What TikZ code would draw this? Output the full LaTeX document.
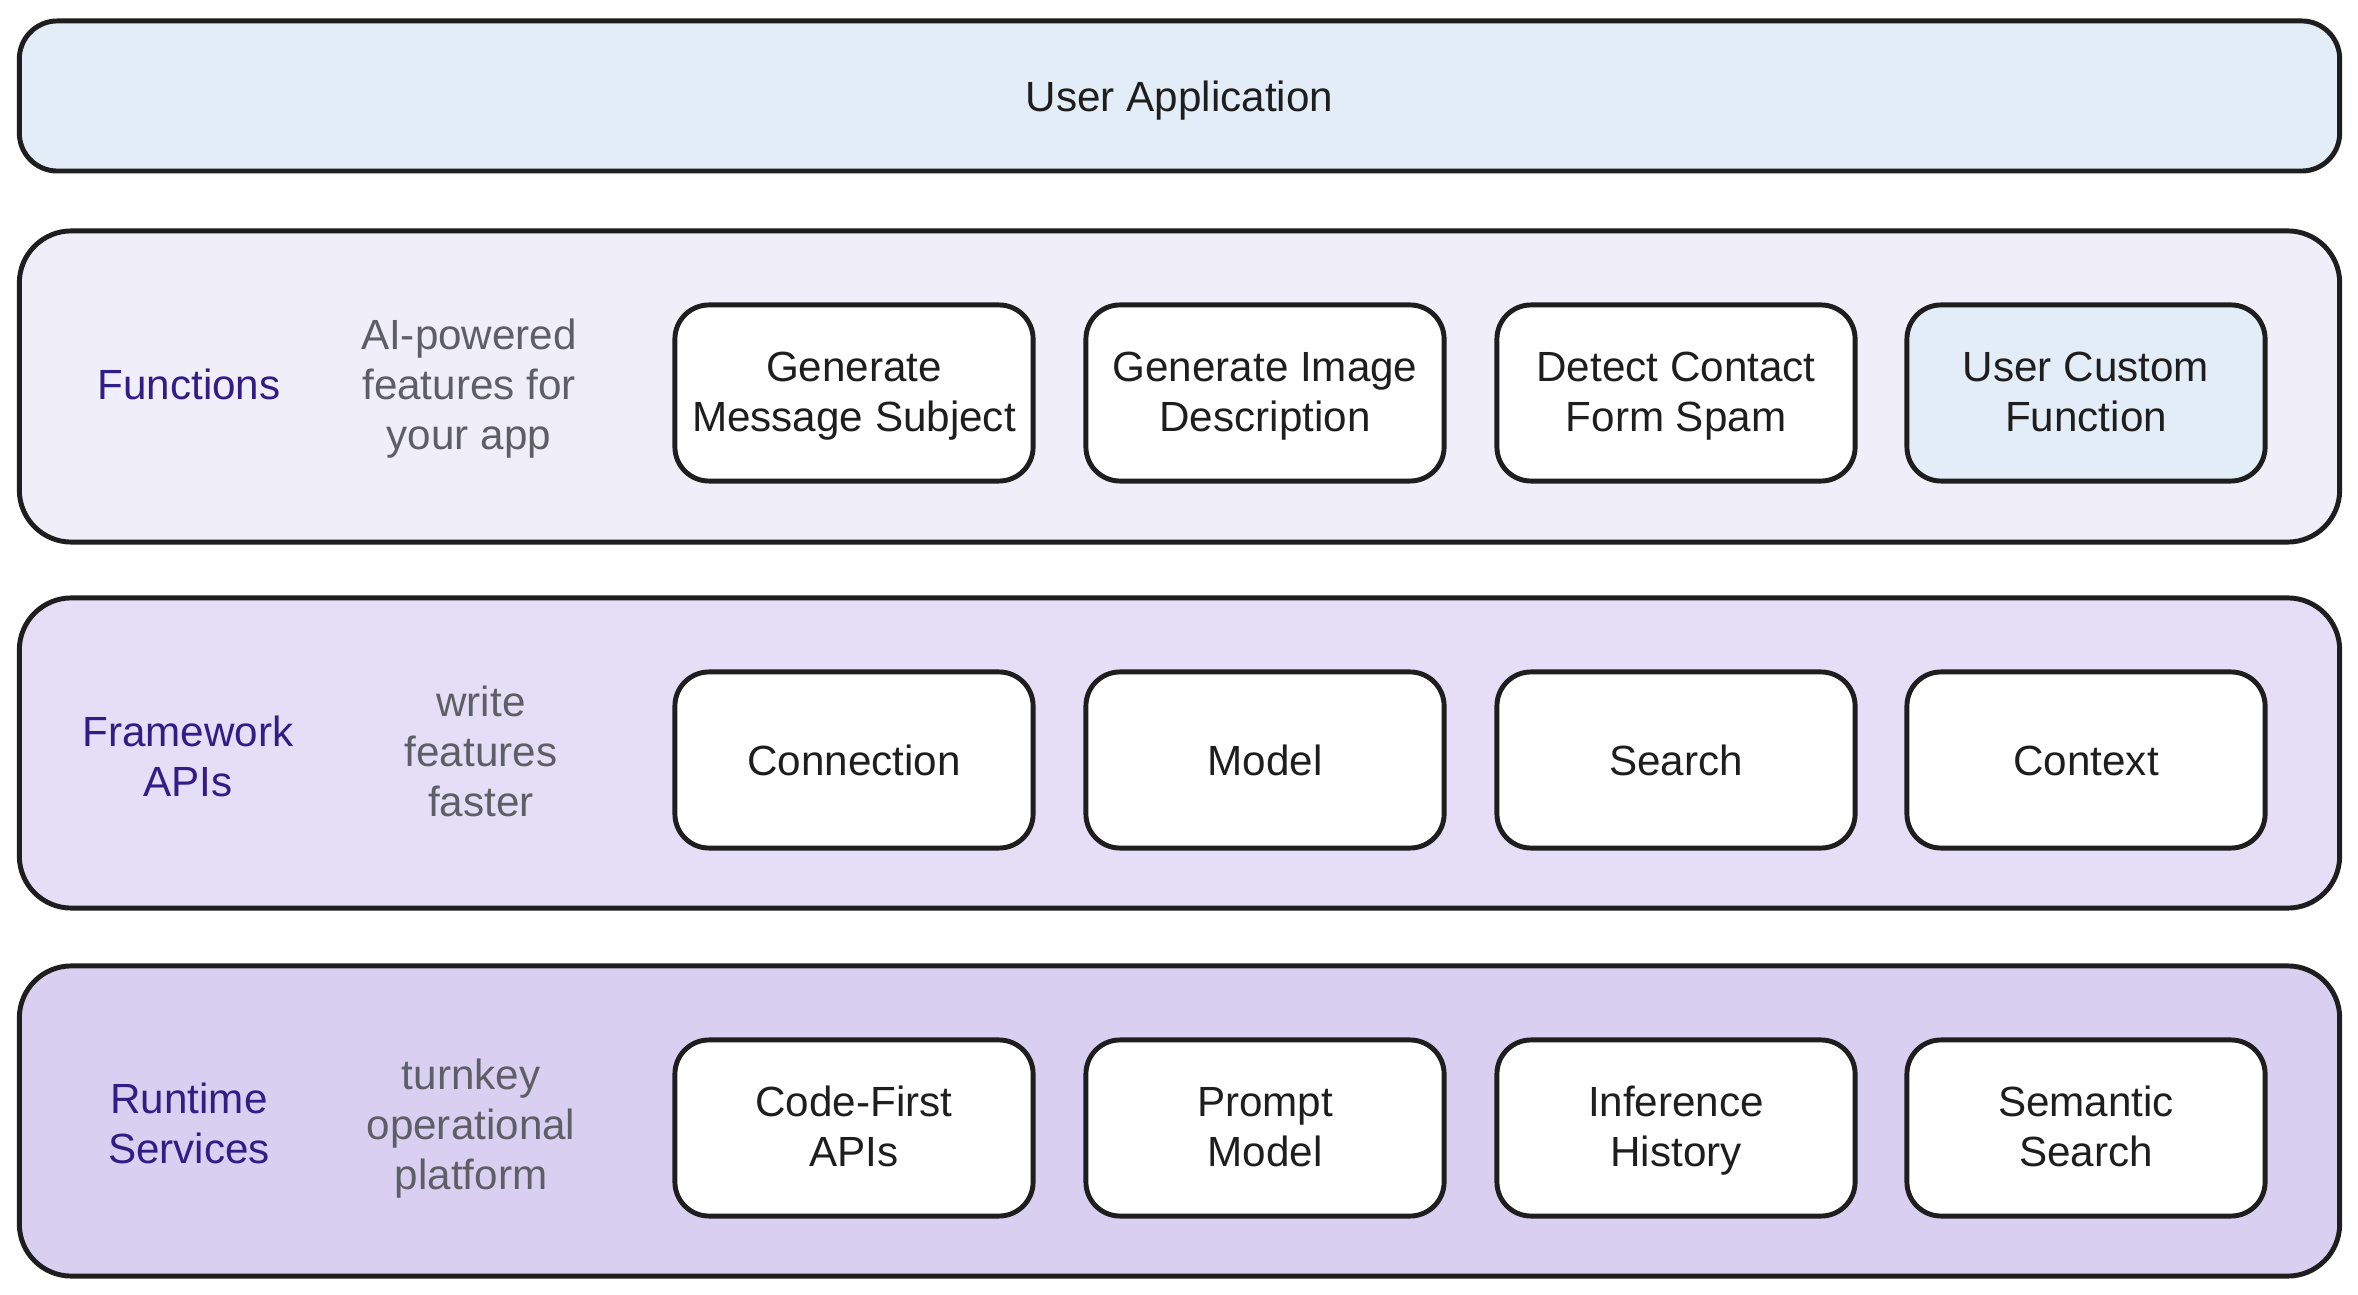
\documentclass[tikz,border=0pt]{standalone}
\usepackage{fontspec}
\setmainfont{Liberation Sans}
\definecolor{topfill}{HTML}{E3EDF7}
\definecolor{funcfill}{HTML}{F0EEF9}
\definecolor{fwfill}{HTML}{E4DFF6}
\definecolor{rtfill}{HTML}{D9D0F1}
\definecolor{ink}{HTML}{1E1E1E}
\definecolor{layerpurple}{HTML}{321C85}
\definecolor{notegray}{HTML}{5E5F66}
\tikzset{
  txt/.style={font=\fontsize{12}{14.2}\selectfont, execute at begin node=\strut, execute at end node=\strut, inner sep=0pt, align=center, yshift=-0.06cm},
  layerbox/.style={draw=ink, line width=1.4pt, rounded corners=14.8pt, minimum width=23.19cm, inner sep=0pt},
  topbox/.style={draw=ink, line width=1.4pt, rounded corners=10.8pt, fill=topfill, minimum width=23.19cm, minimum height=1.50cm, inner sep=0pt},
  itembox/.style={draw=ink, line width=1.4pt, rounded corners=9.7pt, fill=white, minimum width=3.58cm, minimum height=1.76cm, inner sep=0pt},
  itemtext/.style={txt, text=ink},
  layerlabel/.style={txt, text=layerpurple},
  notelabel/.style={txt, text=notegray},
  maintext/.style={txt, text=ink}
}
\begin{document}
\begin{tikzpicture}[x=0.01cm, y=-0.01cm]
\useasboundingbox (0,0) rectangle (2358,1295);
\fill[white] (0,0) rectangle (2358,1295);
% top
\node[topbox] (app) at (1179.5,96) {};
\node[maintext] (apptext) at (app.center) {User Application};
% layers
\node[layerbox, fill=funcfill, minimum height=3.11cm] (functions) at (1179.5,386.5) {};
\node[layerbox, fill=fwfill, minimum height=3.10cm] (framework) at (1179.5,753) {};
\node[layerbox, fill=rtfill, minimum height=3.10cm] (runtime) at (1179.5,1121) {};
% layer labels
\node[layerlabel] (funclabel) at (189,384) {Functions};
\node[notelabel] (funcnote) at (469,386) {AI-powered\\features for\\your app};
\node[layerlabel] (fwlabel) at (188,758) {Framework\\APIs};
\node[notelabel] (fwnote) at (481,753) {write\\features\\faster};
\node[layerlabel] (rtlabel) at (189,1125) {Runtime\\Services};
\node[notelabel] (rtnote) at (471,1126) {turnkey\\operational\\platform};
% function items
\node[itembox] (f1) at (854,393) {};
\node[itembox] (f2) at (1265,393) {};
\node[itembox] (f3) at (1676,393) {};
\node[itembox, fill=topfill] (f4) at (2086,393) {};
\node[itemtext] (f1t) at (f1.center) {Generate\\Message Subject};
\node[itemtext] (f2t) at (f2.center) {Generate Image\\Description};
\node[itemtext] (f3t) at (f3.center) {Detect Contact\\Form Spam};
\node[itemtext] (f4t) at (f4.center) {User Custom\\Function};
% framework items
\node[itembox] (a1) at (854,760) {};
\node[itembox] (a2) at (1265,760) {};
\node[itembox] (a3) at (1676,760) {};
\node[itembox] (a4) at (2086,760) {};
\node[itemtext] (a1t) at (a1.center) {Connection};
\node[itemtext] (a2t) at (a2.center) {Model};
\node[itemtext] (a3t) at (a3.center) {Search};
\node[itemtext] (a4t) at (a4.center) {Context};
% runtime items
\node[itembox] (r1) at (854,1128) {};
\node[itembox] (r2) at (1265,1128) {};
\node[itembox] (r3) at (1676,1128) {};
\node[itembox] (r4) at (2086,1128) {};
\node[itemtext] (r1t) at (r1.center) {Code-First\\APIs};
\node[itemtext] (r2t) at (r2.center) {Prompt\\Model};
\node[itemtext] (r3t) at (r3.center) {Inference\\History};
\node[itemtext] (r4t) at (r4.center) {Semantic\\Search};
\end{tikzpicture}
\end{document}
